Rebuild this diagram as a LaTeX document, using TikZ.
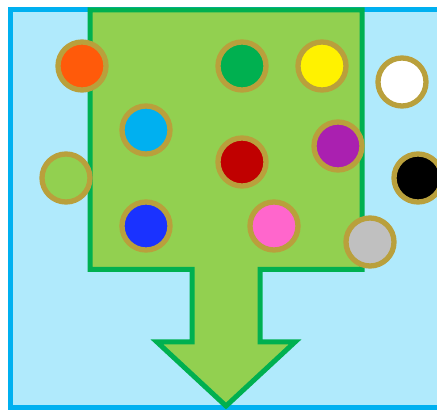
\documentclass[tikz,border=0pt]{standalone}
\usepackage{tikz}
\definecolor{skyfill}{RGB}{176,234,252}
\definecolor{skyline}{RGB}{0,176,240}
\definecolor{leaf}{RGB}{146,208,80}
\definecolor{leafline}{RGB}{0,176,80}
\definecolor{ringgold}{RGB}{185,160,60}
\tikzset{
  tray/.style={fill=skyfill, draw=skyline, line width=5pt},
  funnel/.style={fill=leaf, draw=leafline, line width=5pt, line join=miter},
  counter/.style={circle, draw=ringgold, line width=5.3pt, minimum size=48pt, inner sep=0pt},
}

\begin{document}
\begin{tikzpicture}[x=1pt, y=-1pt]
\useasboundingbox (0,0) rectangle (437,411);
\clip (0,0) rectangle (437,411);
\draw[tray] (10,10) rectangle (460,408);
\draw[funnel] (90,10) -- (362,10) -- (362,269.5) -- (260,269.5) -- (260,342) -- (295,342)
  -- (226,406) -- (157,342) -- (192,342) -- (192,269.5) -- (90,269.5) -- cycle;
\node[counter, fill={rgb,255:red,255;green,90;blue,10}] (orange) at (82,66) {};
\node[counter, fill={rgb,255:red,0;green,176;blue,240}] (cyan) at (146,130) {};
\node[counter, fill=leaf] (empty) at (66,178) {};
\node[counter, fill={rgb,255:red,26;green,50;blue,255}] (blue) at (146,226) {};
\node[counter, fill={rgb,255:red,0;green,176;blue,80}] (green) at (242,66) {};
\node[counter, fill=yellow] (yellow) at (322,66) {};
\node[counter, fill=white] (white) at (402,82) {};
\node[counter, fill={rgb,255:red,192;green,0;blue,0}] (red) at (242,162) {};
\node[counter, fill={rgb,255:red,170;green,32;blue,176}] (purple) at (338,146) {};
\node[counter, fill=black] (black) at (418,178) {};
\node[counter, fill={rgb,255:red,255;green,102;blue,204}] (pink) at (274,226) {};
\node[counter, fill={rgb,255:red,192;green,192;blue,192}] (grey) at (370,242) {};
\end{tikzpicture}
\end{document}
